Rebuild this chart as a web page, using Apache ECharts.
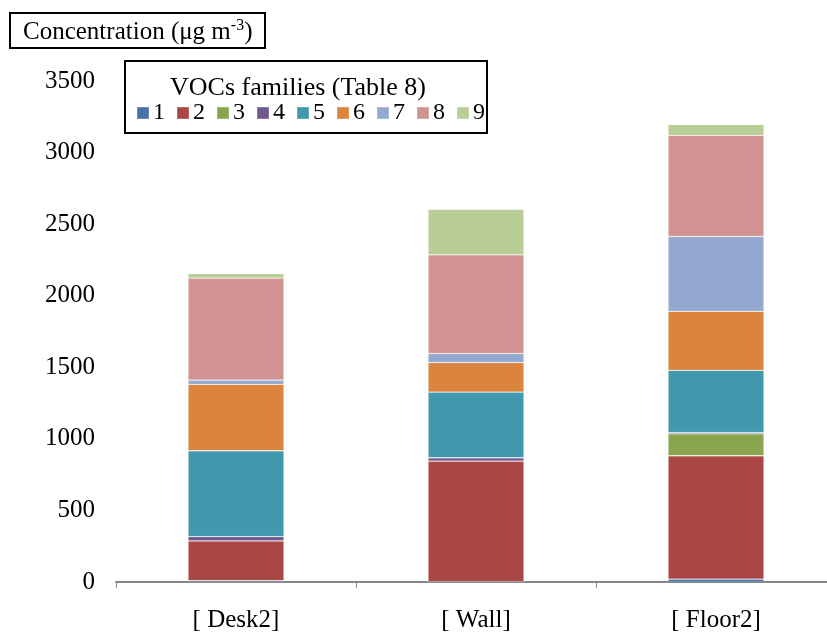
<!DOCTYPE html>
<html><head><meta charset="utf-8">
<script src="https://cdn.jsdelivr.net/npm/echarts@6/dist/echarts.min.js"></script>
<style>html,body{margin:0;padding:0;background:#fff;overflow:hidden}#c{width:850px;height:633px}</style>
</head><body><div id="c"></div>
<script>
const categories = ['[ Desk2]', '[ Wall]', '[ Floor2]'];
const seriesNames = ['1','2','3','4','5','6','7','8','9'];
const s1 = [10, 3, 20];
const s2 = [277, 842, 862];
const s3 = [0, 0, 153];
const s4 = [30, 23, 9];
const s5 = [600, 459, 435];
const s6 = [463, 206, 412];
const s7 = [31, 63, 523];
const s8 = [712, 690, 706];
const s9 = [32, 318, 76];
const yTicks = [0, 500, 1000, 1500, 2000, 2500, 3000, 3500];
const colors = ['#4572A7','#AA4643','#89A54E','#71588F','#4198AF','#DB843D','#93A9CF','#D19392','#B9CD96'];
const allData = [s1,s2,s3,s4,s5,s6,s7,s8,s9];
const font = '"Liberation Serif", "Times New Roman", serif';

const chart = echarts.init(document.getElementById('c'));
chart.setOption({
  animation: false,
  backgroundColor: '#fff',
  grid: {left: 116, top: 81, width: 720, height: 503, containLabel: false},
  xAxis: {
    type: 'category', data: categories,
    axisLine: {lineStyle: {color: '#888', width: 2}},
    axisTick: {show: true, length: 6, lineStyle: {color: '#888', width: 1}},
    axisLabel: {color: '#000', fontFamily: font, fontSize: 25, margin: 26}
  },
  yAxis: {
    type: 'value', min: yTicks[0], max: yTicks[yTicks.length-1], interval: 500,
    axisLine: {show: false}, axisTick: {show: false}, splitLine: {show: false},
    axisLabel: {color: '#000', fontFamily: font, fontSize: 25, margin: 21, formatter: v => String(v)}
  },
  legend: {
    data: seriesNames, left: 131, top: 96, itemWidth: 12, itemHeight: 12, itemGap: 11,
    icon: 'rect', textStyle: {fontFamily: font, fontSize: 24, color: '#000', padding: [0,0,0,-1]}
  },
  series: seriesNames.map((n, i) => ({
    name: n, type: 'bar', stack: 'total', data: allData[i], barWidth: '40%',
    itemStyle: {color: colors[i], borderColor: 'rgba(255,255,255,0.2)', borderWidth: 0.8}
  })),
  graphic: [
    {type: 'rect', shape: {x: 10, y: 13, width: 255, height: 35}, style: {fill: '#fff', stroke: '#000', lineWidth: 2}},
    {type: 'text', x: 23, y: 16, style: {
      text: '{a|Concentration (μg m}{s|-3}{a|)}',
      rich: {a: {fontFamily: font, fontSize: 25, fill: '#000', lineHeight: 29, verticalAlign: 'bottom'},
             s: {fontFamily: font, fontSize: 16, fill: '#000', lineHeight: 29, verticalAlign: 'top', padding: [2,0,0,0]}}
    }},
    {type: 'rect', shape: {x: 125, y: 61, width: 362, height: 72}, style: {fill: 'none', stroke: '#000', lineWidth: 2}, z: 10},
    {type: 'text', x: 298, y: 88, style: {text: 'VOCs families (Table 8)', fontFamily: font, fontSize: 26, fill: '#000', textAlign: 'center', textVerticalAlign: 'middle'}}
  ]
});
</script></body></html>
